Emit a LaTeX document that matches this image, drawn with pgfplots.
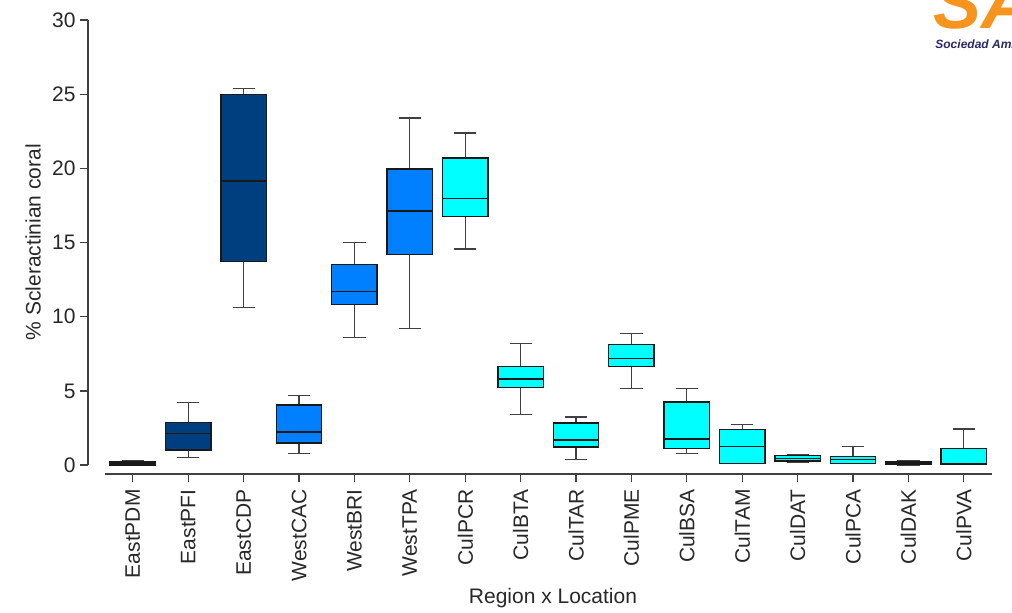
\documentclass[border=0pt]{standalone}
\usepackage{pgfplots}
\pgfplotsset{compat=1.18}
\usepgfplotslibrary{statistics}
\usepackage{fontspec}
\setmainfont{Liberation Sans}
\definecolor{cEast}{RGB}{0,63,127}
\definecolor{cWest}{RGB}{0,128,255}
\definecolor{cCul}{RGB}{0,255,255}
\definecolor{axgray}{RGB}{64,64,64}
\definecolor{txtgray}{RGB}{40,40,40}
\definecolor{logoorange}{RGB}{247,148,29}
\definecolor{logonavy}{RGB}{40,40,100}
\begin{document}
\begin{tikzpicture}
\useasboundingbox (-44pt,-69.5pt) rectangle (462pt,237pt);
\clip (-44pt,-69.5pt) rectangle (462pt,237pt);
\begin{axis}[
  at={(0,0)}, anchor=south west,
  x=27.7pt, y=7.417pt,
  xmin=-0.81, xmax=15.5, ymin=-0.6, ymax=30,
  clip=false,
  axis lines=left,
  axis line style={draw=none,-},
  tick align=outside,
  major tick length=4pt,
  tick style={axgray, line width=0.6pt},
  xtick={0,...,15},
  xticklabels={EastPDM,EastPFI,EastCDP,WestCAC,WestBRI,WestTPA,CulPCR,CulBTA,CulTAR,CulPME,CulBSA,CulTAM,CulDAT,CulPCA,CulDAK,CulPVA},
  ytick={0,5,...,30},
  /pgf/number format/assume math mode=true,
  tick label style={font=\fontsize{10.5}{12}\selectfont, text=txtgray},
  xticklabel style={rotate=90, anchor=east, inner sep=0pt, xshift=-3.5pt},
  yticklabel style={inner sep=0pt, xshift=-2pt},
  boxplot/draw direction=y,
  boxplot/box extend=0.82,
  boxplot/whisker extend=0.4,
  boxplot/every box/.style={draw=black!90, line width=0.7pt},
  boxplot/every whisker/.style={draw=axgray, line width=0.6pt},
  boxplot/every median/.style={draw=black!90, line width=0.7pt},
]
\draw[axgray, line width=0.7pt] (axis cs:-0.81,0) -- (axis cs:-0.81,30);
\draw[axgray, line width=0.7pt] (axis cs:-0.505,-0.6) -- (axis cs:15.5,-0.6);
% East
\addplot[fill=cEast, boxplot prepared={lower whisker=0, lower quartile=0.01, median=0.1, upper quartile=0.22, upper whisker=0.29, draw position=0}] coordinates {};
\addplot[fill=cEast, boxplot prepared={lower whisker=0.49, lower quartile=1.03, median=2.13, upper quartile=2.88, upper whisker=4.23, draw position=1}] coordinates {};
\addplot[fill=cEast, boxplot prepared={lower whisker=10.6, lower quartile=13.73, median=19.15, upper quartile=25.0, upper whisker=25.4, draw position=2}] coordinates {};
% West
\addplot[fill=cWest, boxplot prepared={lower whisker=0.76, lower quartile=1.5, median=2.23, upper quartile=4.05, upper whisker=4.7, draw position=3}] coordinates {};
\addplot[fill=cWest, boxplot prepared={lower whisker=8.58, lower quartile=10.81, median=11.71, upper quartile=13.53, upper whisker=15.0, draw position=4}] coordinates {};
\addplot[fill=cWest, boxplot prepared={lower whisker=9.22, lower quartile=14.18, median=17.13, upper quartile=19.96, upper whisker=23.4, draw position=5}] coordinates {};
% Cul
\addplot[fill=cCul, boxplot prepared={lower whisker=14.57, lower quartile=16.77, median=17.96, upper quartile=20.7, upper whisker=22.39, draw position=6}] coordinates {};
\addplot[fill=cCul, boxplot prepared={lower whisker=3.42, lower quartile=5.24, median=5.8, upper quartile=6.63, upper whisker=8.2, draw position=7}] coordinates {};
\addplot[fill=cCul, boxplot prepared={lower whisker=0.38, lower quartile=1.21, median=1.69, upper quartile=2.85, upper whisker=3.24, draw position=8}] coordinates {};
\addplot[fill=cCul, boxplot prepared={lower whisker=5.17, lower quartile=6.63, median=7.19, upper quartile=8.14, upper whisker=8.85, draw position=9}] coordinates {};
\addplot[fill=cCul, boxplot prepared={lower whisker=0.76, lower quartile=1.12, median=1.77, upper quartile=4.25, upper whisker=5.17, draw position=10}] coordinates {};
\addplot[fill=cCul, boxplot prepared={lower whisker=0.11, lower quartile=0.11, median=1.24, upper quartile=2.4, upper whisker=2.76, draw position=11}] coordinates {};
\addplot[fill=cCul, boxplot prepared={lower whisker=0.2, lower quartile=0.27, median=0.45, upper quartile=0.65, upper whisker=0.74, draw position=12}] coordinates {};
\addplot[fill=cCul, boxplot prepared={lower whisker=0.11, lower quartile=0.11, median=0.38, upper quartile=0.59, upper whisker=1.24, draw position=13}] coordinates {};
\addplot[fill=cCul, boxplot prepared={lower whisker=0, lower quartile=0.02, median=0.1, upper quartile=0.22, upper whisker=0.31, draw position=14}] coordinates {};
\addplot[fill=cCul, boxplot prepared={lower whisker=0.05, lower quartile=0.05, median=0.11, upper quartile=1.12, upper whisker=2.43, draw position=15}] coordinates {};
\end{axis}
\node[rotate=90, text=txtgray, font=\fontsize{10.5}{12}\selectfont] at (-27.5pt,116pt) {\% Scleractinian coral};
\node[text=txtgray, font=\fontsize{10.5}{12}\selectfont] at (232.5pt,-62pt) {Region x Location};
\node[anchor=base west, inner sep=0pt, text=logoorange, font=\fontsize{36}{36}\selectfont\bfseries\itshape] at (422.5pt,222.5pt) {SA};
\node[anchor=base west, inner sep=0pt, text=logonavy, font=\fontsize{6}{6}\selectfont\bfseries\itshape] at (423.5pt,212.5pt) {Sociedad Ambiental};
\end{tikzpicture}
\end{document}
